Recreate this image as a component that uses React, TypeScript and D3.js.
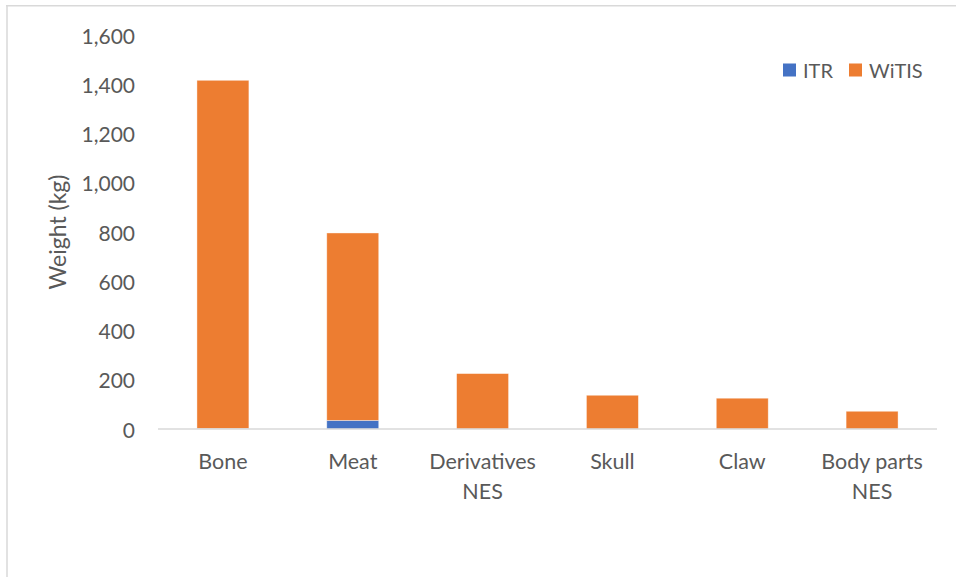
import React from "react";
import * as d3 from "d3";

// Categories and stacked series (kg)
const categories = ["Bone", "Meat", "Derivatives NES", "Skull", "Claw", "Body parts NES"];
const categoryLines = [["Bone"], ["Meat"], ["Derivatives", "NES"], ["Skull"], ["Claw"], ["Body parts", "NES"]];
const itr = [2, 35, 0, 0, 0, 0];
const witis = [1414, 761, 225, 137, 125, 72];
const seriesNames = ["ITR", "WiTIS"];
const seriesColors = ["#4472C4", "#ED7D31"];
const yTicks = [0, 200, 400, 600, 800, 1000, 1200, 1400, 1600];

const W = 956;
const H = 577;
const plot = { left: 158, right: 937, top: 35, bottom: 429 };
const font = "Lato, 'Open Sans', sans-serif";
const textColor = "#595959";

export default function App() {
  const x = d3
    .scaleBand<string>()
    .domain(categories)
    .range([plot.left, plot.right])
    .paddingInner(0.6)
    .paddingOuter(0.3);
  const y = d3.scaleLinear().domain([0, 1600]).range([plot.bottom, plot.top]);

  const rows = categories.map((c, i) => ({ cat: c, ITR: itr[i], WiTIS: witis[i] }));
  const stacked = d3.stack<any>().keys(seriesNames)(rows);
  const fmt = d3.format(",");

  return (
    <svg
      width={W}
      height={H}
      style={{ position: "fixed", left: 0, top: 0, background: "#fff" }}
      fontFamily={font}
    >
      <rect x={0} y={0} width={W} height={H} fill="#fff" />
      {/* chart frame */}
      <line x1={7} y1={5} x2={7} y2={H} stroke="#d9d9d9" strokeWidth={1.5} />
      <line x1={6} y1={5.75} x2={W} y2={5.75} stroke="#d9d9d9" strokeWidth={1.5} />

      {/* y tick labels */}
      {yTicks.map((t) => (
        <text
          key={t}
          x={135}
          y={y(t)}
          textAnchor="end"
          dominantBaseline="central"
          fontSize={21}
          fill={textColor}
        >
          {fmt(t)}
        </text>
      ))}

      {/* y axis title */}
      <text
        transform={`translate(57, 232) rotate(-90)`}
        textAnchor="middle"
        dominantBaseline="central"
        fontSize={23}
        fill={textColor}
      >
        Weight (kg)
      </text>

      {/* stacked bars */}
      {stacked.map((layer, si) => (
        <g key={seriesNames[si]} fill={seriesColors[si]}>
          {layer.map((d, i) => {
            const h = y(d[0]) - y(d[1]);
            if (h <= 0) return null;
            return (
              <rect
                key={i}
                x={x(categories[i])!}
                y={y(d[1])}
                width={x.bandwidth()}
                height={h}
                stroke="#fff"
                strokeOpacity={0.5}
                strokeWidth={0.75}
              />
            );
          })}
        </g>
      ))}

      {/* baseline */}
      <line x1={plot.left} x2={plot.right} y1={plot.bottom} y2={plot.bottom} stroke="#d9d9d9" strokeWidth={1.5} />

      {/* category labels */}
      {categoryLines.map((lines, i) => (
        <text
          key={i}
          x={x(categories[i])! + x.bandwidth() / 2}
          y={461}
          textAnchor="middle"
          dominantBaseline="central"
          fontSize={21.5}
          fill={textColor}
        >
          {lines.map((l, j) => (
            <tspan key={j} x={x(categories[i])! + x.bandwidth() / 2} dy={j === 0 ? 0 : 30}>
              {l}
            </tspan>
          ))}
        </text>
      ))}

      {/* legend */}
      {seriesNames.map((s, i) => {
        const lx = [783, 849][i];
        return (
          <g key={s}>
            <rect x={lx} y={63.5} width={13} height={13} fill={seriesColors[i]} />
            <text x={lx + 20} y={70} dominantBaseline="central" fontSize={20} fill={textColor}>
              {s}
            </text>
          </g>
        );
      })}
    </svg>
  );
}
